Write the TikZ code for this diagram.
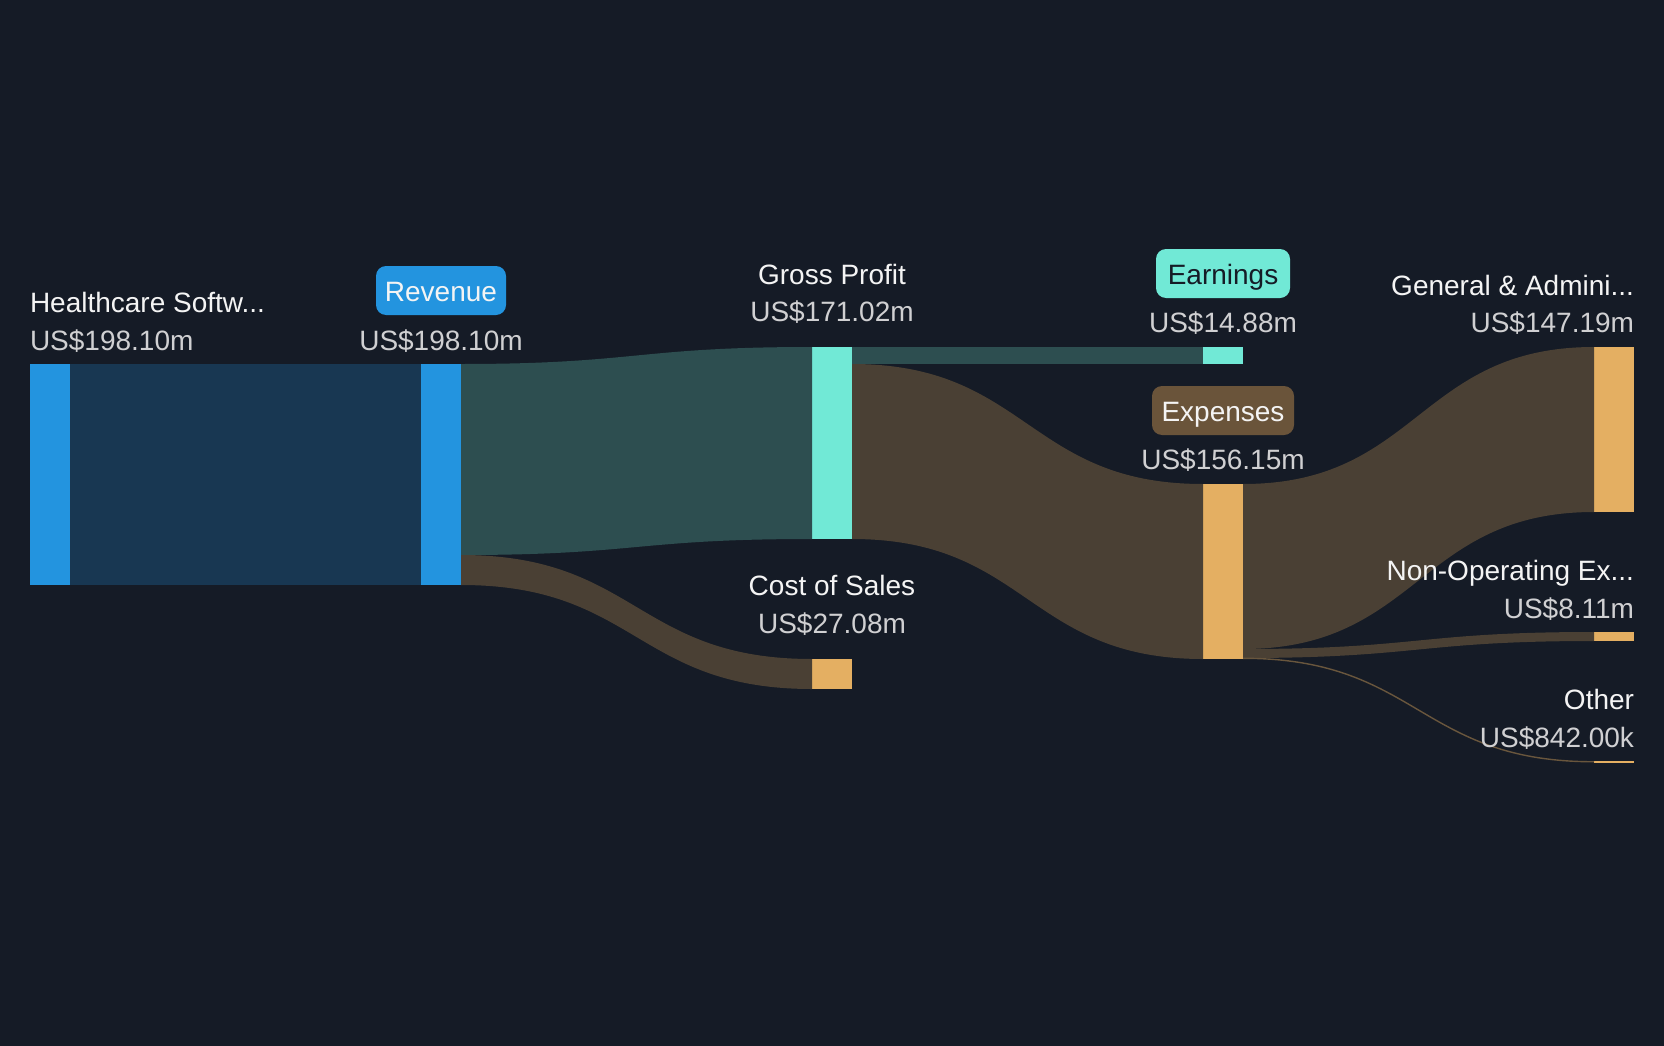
\documentclass[tikz,border=0pt]{standalone}
\usepackage{fontspec}
\setmainfont{Liberation Sans}
\usetikzlibrary{calc}
\definecolor{bg}{HTML}{151B26}
\definecolor{bluebar}{HTML}{2394DF}
\definecolor{blueflow}{HTML}{183752}
\definecolor{tealbar}{HTML}{71E9D6}
\definecolor{tealflow}{HTML}{2D4E50}
\definecolor{orangebar}{HTML}{E4AF62}
\definecolor{brownflow}{HTML}{4A4034}
\definecolor{expbadge}{HTML}{6A543A}
\definecolor{namec}{HTML}{F4F4F4}
\definecolor{valc}{HTML}{D0D0D2}
\begin{document}
\begin{tikzpicture}[x=1pt,y=-1pt,
  bar/.style={rectangle, inner sep=0pt, outer sep=0pt, minimum width=40pt, anchor=north west},
  txt/.style={inner sep=0pt, outer sep=0pt, font=\fontsize{28}{32}\selectfont},
  namelbl/.style={txt, text=namec},
  vallbl/.style={txt, text=valc},
  badge/.style={txt, rounded corners=10pt, minimum height=49pt, text height=21pt, text depth=0pt, anchor=north},
  flowb/.style={fill=brownflow},
  flowt/.style={fill=tealflow}]
\path[fill=bg] (0,0) rectangle (1664,1046);
\useasboundingbox (0,0) rectangle (1664,1046);
% bars
\node[bar, fill=bluebar, minimum height=221pt] (hs) at (30,364) {};
\node[bar, fill=bluebar, minimum height=221pt] (rev) at (421,364) {};
\node[bar, fill=tealbar, minimum height=192pt] (gp) at (812,347) {};
\node[bar, fill=orangebar, minimum height=30pt] (cos) at (812,659) {};
\node[bar, fill=tealbar, minimum height=17pt] (earn) at (1203,347) {};
\node[bar, fill=orangebar, minimum height=175pt] (exp) at (1203,484) {};
\node[bar, fill=orangebar, minimum height=165pt] (ga) at (1594,347) {};
\node[bar, fill=orangebar, minimum height=9pt] (nonop) at (1594,632) {};
\node[bar, fill=orangebar, minimum height=1.5pt] (other) at (1594,761) {};
% flows
\fill[blueflow] (hs.north east) rectangle (rev.south west);
\fill[tealflow] (rev.north east) .. controls +(175.5,0) and +(-175.5,0) .. (gp.north west)
  -- (gp.south west) .. controls +(-175.5,0) and +(175.5,0) .. ($(rev.north east)+(0,191)$) -- cycle;
\fill[brownflow] ($(rev.north east)+(0,191)$) .. controls +(175.5,0) and +(-175.5,0) .. (cos.north west)
  -- (cos.south west) .. controls +(-175.5,0) and +(175.5,0) .. (rev.south east) -- cycle;
\fill[tealflow] (gp.north east) rectangle (earn.south west);
\fill[brownflow] ($(gp.north east)+(0,17)$) .. controls +(175.5,0) and +(-175.5,0) .. (exp.north west)
  -- (exp.south west) .. controls +(-175.5,0) and +(175.5,0) .. (gp.south east) -- cycle;
\fill[brownflow] (exp.north east) .. controls +(175.5,0) and +(-175.5,0) .. (ga.north west)
  -- (ga.south west) .. controls +(-175.5,0) and +(175.5,0) .. ($(exp.north east)+(0,165)$) -- cycle;
\fill[brownflow] ($(exp.north east)+(0,165)$) .. controls +(175.5,0) and +(-175.5,0) .. (nonop.north west)
  -- (nonop.south west) .. controls +(-175.5,0) and +(175.5,0) .. ($(exp.north east)+(0,174)$) -- cycle;
\draw[brownflow!80!orangebar, line width=1.4pt] ($(exp.south east)+(0,-0.7)$) .. controls +(175.5,0) and +(-175.5,0) .. (other.west);
% labels
\node[namelbl, anchor=base west] (hsn) at (30,312) {Healthcare Softw...};
\node[vallbl, anchor=base west] (hsv) at (30,350) {US\$198.10m};
\node[badge, fill=bluebar, text=namec, minimum width=130pt] (revb) at (441,266) {Revenue};
\node[vallbl, anchor=base] (revv) at (441,350) {US\$198.10m};
\node[namelbl, anchor=base] (gpn) at (832,284) {Gross Profit};
\node[vallbl, anchor=base] (gpv) at (832,321) {US\$171.02m};
\node[namelbl, anchor=base] (cosn) at (832,595) {Cost of Sales};
\node[vallbl, anchor=base] (cosv) at (832,633) {US\$27.08m};
\node[badge, fill=tealbar, text=bg, minimum width=134pt] (earnb) at (1223,249) {Earnings};
\node[vallbl, anchor=base] (earnv) at (1223,332) {US\$14.88m};
\node[badge, fill=expbadge, text=namec, minimum width=142pt] (expb) at (1223,386) {Expenses};
\node[vallbl, anchor=base] (expv) at (1223,469) {US\$156.15m};
\node[namelbl, anchor=base east] (gan) at (1634,295) {General \& Admini...};
\node[vallbl, anchor=base east] (gav) at (1634,332) {US\$147.19m};
\node[namelbl, anchor=base east] (nonopn) at (1634,580) {Non-Operating Ex...};
\node[vallbl, anchor=base east] (nonopv) at (1634,618) {US\$8.11m};
\node[namelbl, anchor=base east] (othern) at (1634,709) {Other};
\node[vallbl, anchor=base east] (otherv) at (1634,747) {US\$842.00k};
\end{tikzpicture}
\end{document}
